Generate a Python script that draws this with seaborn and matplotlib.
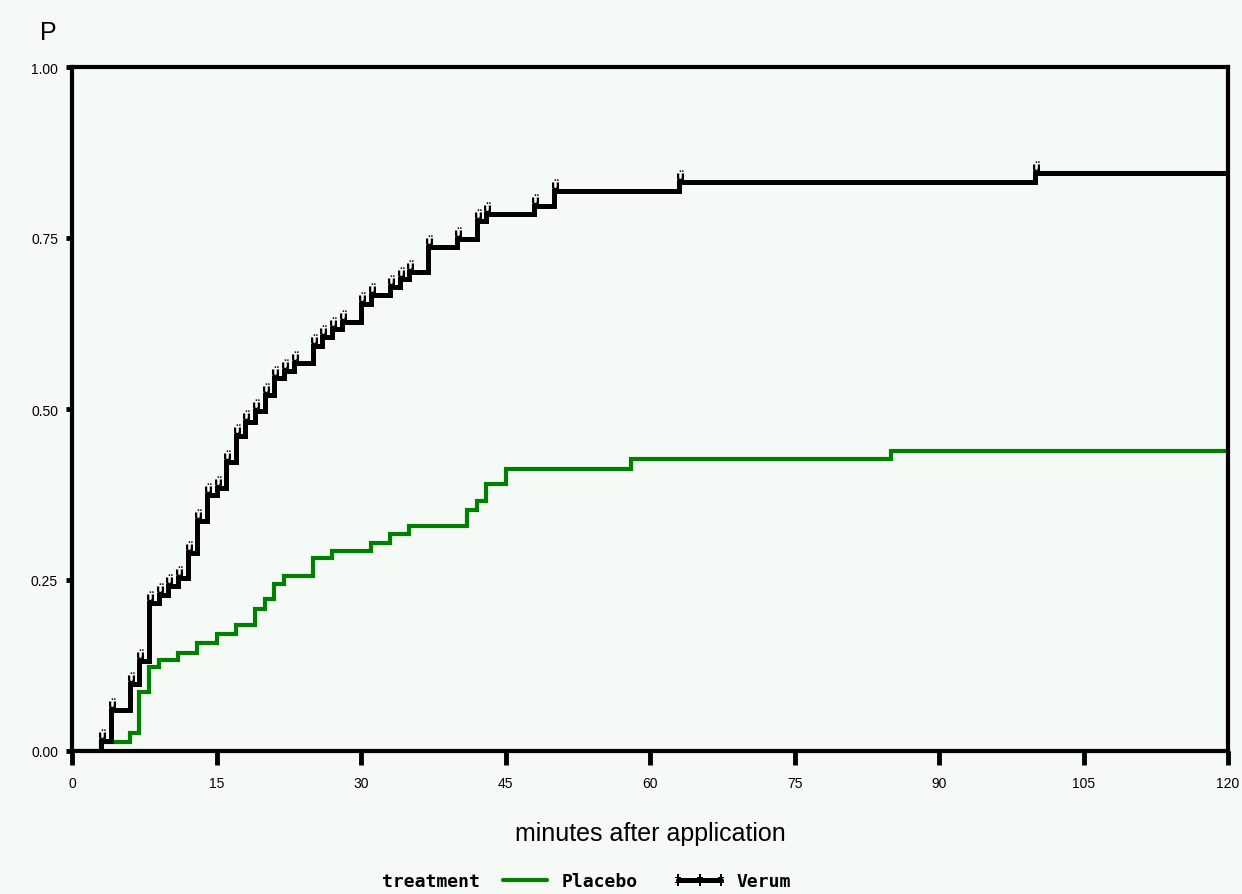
import numpy as np
import pandas as pd
import matplotlib
matplotlib.use("Agg")
import matplotlib.pyplot as plt
import matplotlib.transforms as mtransforms
from matplotlib.lines import Line2D
import seaborn as sns

# step data (minutes, cumulative P)
verum_t = [0, 3, 4, 6, 7, 8, 9, 10, 11, 12, 13, 14, 15, 16, 17, 18, 19, 20, 21, 22, 23,
           25, 26, 27, 28, 30, 31, 33, 34, 35, 37, 40, 42, 43, 48, 50, 63, 100, 120]
verum_p = [0, 0.015, 0.060, 0.098, 0.132, 0.216, 0.228, 0.241, 0.253, 0.290, 0.336, 0.375,
           0.385, 0.422, 0.461, 0.481, 0.497, 0.520, 0.545, 0.556, 0.567, 0.592, 0.605,
           0.617, 0.627, 0.653, 0.667, 0.678, 0.690, 0.700, 0.737, 0.749, 0.775, 0.785,
           0.797, 0.819, 0.832, 0.845, 0.845]

placebo_t = [0, 3, 6, 7, 8, 9, 11, 13, 15, 17, 19, 20, 21, 22, 25, 27, 31, 33, 35,
             41, 42, 43, 45, 58, 85, 120]
placebo_p = [0, 0.013, 0.026, 0.086, 0.123, 0.133, 0.144, 0.158, 0.171, 0.184, 0.207,
             0.222, 0.244, 0.256, 0.282, 0.292, 0.304, 0.317, 0.329, 0.352, 0.365,
             0.390, 0.412, 0.427, 0.439, 0.439]

x_ticks = [0, 15, 30, 45, 60, 75, 90, 105, 120]
y_ticks = [0, 0.25, 0.5, 0.75, 1.0]
y_labels = ["0.00", "0.25", "0.50", "0.75", "1.00"]

groups = ["Placebo", "Verum"]
colors = {"Placebo": "#008000", "Verum": "#000000"}

df = pd.concat([
    pd.DataFrame({"minutes": placebo_t, "P": placebo_p, "treatment": "Placebo"}),
    pd.DataFrame({"minutes": verum_t, "P": verum_p, "treatment": "Verum"}),
], ignore_index=True)

sns.set_style("white")
plt.rcParams["font.family"] = ["Liberation Sans", "DejaVu Sans"]
plt.rcParams["text.color"] = "black"
plt.rcParams["axes.labelcolor"] = "black"
plt.rcParams["xtick.color"] = "black"
plt.rcParams["ytick.color"] = "black"

bg = "#f6faf6"
fig = plt.figure(figsize=(12.42, 8.95), dpi=100, facecolor=bg)
ax = fig.add_axes([72 / 1242, 1 - 752 / 895, (1228 - 72) / 1242, (752 - 68) / 895])
ax.set_facecolor(bg)

sns.lineplot(data=df[df.treatment == "Placebo"], x="minutes", y="P", color=colors["Placebo"],
             drawstyle="steps-post", linewidth=3.0, legend=False, ax=ax, zorder=2,
             solid_joinstyle="miter")
sns.lineplot(data=df[df.treatment == "Verum"], x="minutes", y="P", color=colors["Verum"],
             drawstyle="steps-post", linewidth=3.6, legend=False, ax=ax, zorder=3,
             solid_joinstyle="miter")

# little symbols sitting on each verum step
steps = df[(df.treatment == "Verum") & (df.minutes > 0) & (df.minutes < 120)]
mark_tr = mtransforms.offset_copy(ax.transData, fig=fig, x=1, y=7, units="dots")
ax.scatter(steps.minutes, steps.P, marker=r"$\mathbf{\ddot{u}}$", s=55, color="black",
           linewidths=0, transform=mark_tr, zorder=4, clip_on=False)

ax.set_xlim(0, 120)
ax.set_ylim(0, 1)
ax.set_xticks(x_ticks)
ax.set_xticklabels([str(v) for v in x_ticks])
ax.set_yticks(y_ticks)
ax.set_yticklabels(y_labels)
ax.tick_params(axis="x", direction="out", length=10, width=3.5, pad=8, labelsize=10,
               bottom=True, color="black", labelcolor="black")
ax.tick_params(axis="y", direction="out", length=4, width=3.5, pad=6, labelsize=10,
               left=True, color="black", labelcolor="black")
for s in ax.spines.values():
    s.set_visible(True)
    s.set_color("black")
    s.set_linewidth(3)

ax.set_xlabel("minutes after application", fontsize=18, labelpad=22, color="black")
ax.set_ylabel("")
fig.text(48 / 1242, 1 - 33 / 895, "P", fontsize=18, ha="center", va="center", color="black")

# legend row at the bottom
mono = ["DejaVu Sans Mono"]
fig.text(431 / 1242, 1 - 882 / 895, "treatment", fontsize=13, family=mono, weight="bold",
         ha="center", va="center", color="black")
handles = [
    Line2D([], [], color=colors["Placebo"], linewidth=3.0),
    Line2D([], [], color=colors["Verum"], linewidth=3.6, marker=r"$\ddagger$",
           markersize=9, markeredgewidth=0),
]
leg = fig.legend(handles, groups, loc="center left", bbox_to_anchor=(498 / 1242, 1 - 882 / 895),
                 ncol=2, frameon=False, handlelength=3.0, handletextpad=0.55, columnspacing=1.9,
                 borderpad=0, borderaxespad=0, numpoints=3,
                 prop={"family": mono, "weight": "bold", "size": 13})
for txt in leg.get_texts():
    txt.set_color("black")

fig.savefig("out.png", dpi=100, facecolor=bg)
